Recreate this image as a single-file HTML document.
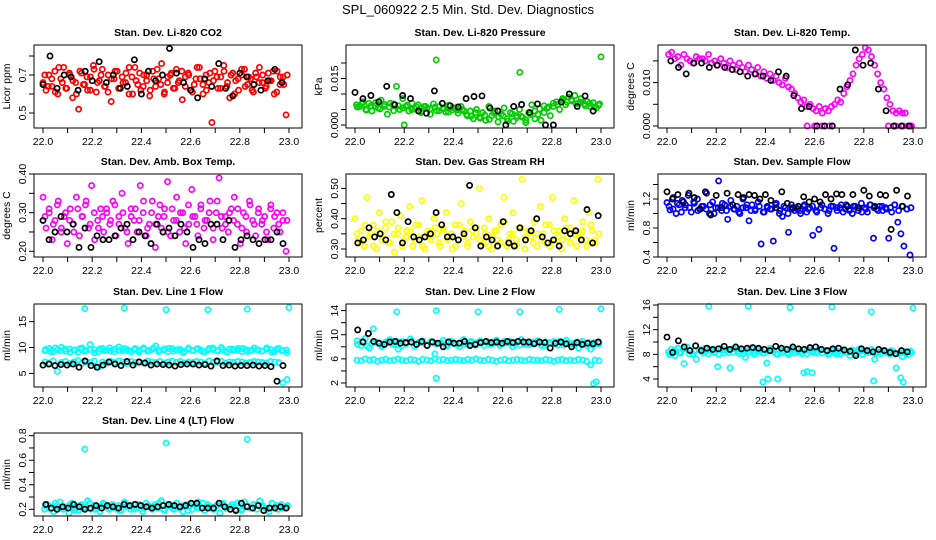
<!DOCTYPE html>
<html><head><meta charset="utf-8"><style>
body{margin:0;background:#fff}
svg{display:block;font-family:"Liberation Sans",sans-serif}
</style></head><body>
<svg id="c" width="936" height="540" viewBox="0 0 936 540">
<text x="468" y="14" text-anchor="middle" font-size="13">SPL_060922  2.5 Min. Std. Dev. Diagnostics</text>
</svg>
<script>
const xTickVals=[22.0,22.1,22.2,22.3,22.4,22.5,22.6,22.7,22.8,22.9,23.0];
const xTickLabels=["22.0","22.2","22.4","22.6","22.8","23.0"];
const titles=["Stan. Dev. Li-820 CO2","Stan. Dev. Li-820 Pressure","Stan. Dev. Li-820 Temp.","Stan. Dev. Amb. Box Temp.","Stan. Dev. Gas Stream RH","Stan. Dev. Sample Flow","Stan. Dev. Line 1 Flow","Stan. Dev. Line 2 Flow","Stan. Dev. Line 3 Flow","Stan. Dev. Line 4 (LT) Flow"];
const yLabels=["Licor ppm","kPa","degrees C","degrees C","percent","ml/min","ml/min","ml/min","ml/min","ml/min"];
const yTicks=[[.5,.6,.7,.8],[0,.005,.01,.015,.02],[0,.005,.01,.015],[.2,.25,.3,.35,.4],[.3,.35,.4,.45,.5],[.4,.6,.8,1.0,1.2,1.4],[5,10,15],[2,4,6,8,10,12,14],[4,6,8,10,12,14,16],[.2,.3,.4,.5,.6,.7,.8]];
const yTickLabels=[["0.5","0.7"],["0.000","0.015"],["0.000","0.010"],["0.20","0.30","0.40"],["0.30","0.40","0.50"],["0.4","0.8","1.2"],["5","10","15"],["2","6","10","14"],["4","8","12","16"],["0.2","0.4","0.6","0.8"]];
const yLabelVals=[[.5,.7],[0,.015],[0,.01],[.2,.3,.4],[.3,.4,.5],[.4,.8,1.2],[5,10,15],[2,6,10,14],[4,8,12,16],[.2,.4,.6,.8]];
// y calibration: [value0, relPx0, value1, relPx1]
const yCal=[[.5,68,.7,30],[0,80,.015,33.5],[0,81,.01,37.6],[.2,77.3,.4,0],[.3,75,.5,14.4],[.4,83,1.2,25],[5,69.4,15,17.6],[2,79,14,6.6],[4,75,16,1],[.2,76.3,.8,2.7]];

const co2Red=[.66,.62,.70,.64,.72,.60,.68,.74,.63,.70,.58,.66,.52,.71,.65,.62,.69,.75,.61,.67,.73,.64,.70,.56,.68,.72,.63,.66,.71,.60,.69,.74,.65,.62,.70,.67,.59,.72,.64,.68,.76,.61,.66,.70,.63,.73,.67,.57,.69,.71,.62,.65,.74,.68,.60,.70,.66,.45,.72,.63,.69,.75,.64,.58,.71,.67,.62,.70,.73,.65,.68,.61,.69,.74,.66,.63,.71,.67,.60,.72,.65,.69,.49];
const co2Red2=[.70,.64,.68,.61,.74,.66,.63,.71,.67,.60,.72,.65,.69,.62,.73,.66,.70,.64,.61,.68,.72,.63,.69,.66,.74,.60,.67,.71,.64,.70,.62,.68,.73,.65,.60,.69,.71,.63,.66,.72,.64,.70,.61,.68,.74,.65,.62,.71,.67,.69,.63,.72,.66,.70,.60,.68,.73,.64,.69,.62,.71,.66,.70,.64,.67,.72,.61,.69,.65,.70];
const co2Black=[.65,.80,.63,.70,.69,.62,.72,.67,.77,.66,.70,.63,.64,.78,.60,.72,.67,.70,.84,.71,.66,.62,.58,.68,.64,.76,.63,.59,.71,.69,.65,.62,.67,.73,.66];
const presGreen=[.0065,.006,.0075,.005,.007,.0045,.0062,.0055,.008,.006,.0035,.007,.0068,.0125,.005,.0085,.006,.0045,.007,.0052,.0065,.004,.006,.0055,.0035,.0068,.0046,.006,.0052,.0042,.0064,.0048,.0055,.0038,.006,.0045,.003,.0045,.002,.005,.0025,.004,.0015,.006,.003,.0045,.001,.0035,.0055,.002,.004,.0012,.003,.005,.0025,.0008,.004,.0065,.002,.0035,.0015,.004,.0055,.003,.006,.0075,.005,.0085,.0065,.009,.0078,.0095,.007,.0085,.0068,.0076,.006,.0072,.0055,.0068];
const presGreen2=[.0058,.0068,.0048,.0062,.0072,.0052,.0066,.0058,.0046,.0062,.0055,.0064,.005,.0058,.0044,.006,.0052,.0057,.0046,.0054,.0042,.0056,.0048,.005,.0034,.0028,.004,.0022,.0032,.0018,.0038,.0026,.003,.0012,.0036,.0024,.0028,.0016,.0034,.0045,.0052,.0062,.0058,.007,.0066,.008,.0074,.0082,.0068,.0074,.0062,.007,.0058,.0064];
const presGreenOutX=[22.33,22.67,23.0,22.2];
const presGreenOutY=[.021,.017,.022,0];
const presBlack=[.0105,.0085,.0095,.0075,.0125,.0065,.0095,.0085,.0045,.0038,.011,.007,.0062,.0058,.0085,.0092,.0094,.0055,.0045,0,.006,.0066,.004,.0068,0,0,.0074,.01,.006,.0094,.0045];
const tempMag=[.0165,.017,.0155,.016,.014,.0165,.0155,.015,.0145,.016,.0155,.0155,.015,.0165,.0145,.015,.014,.0155,.0145,.0135,.015,.014,.013,.0145,.0135,.0125,.014,.013,.012,.0135,.0115,.0125,.011,.012,.0105,.0115,.01,.0095,.011,.009,.0085,.0075,.0065,.0055,.006,.0045,.005,.004,.0035,.0045,.003,.004,.0035,.0045,.005,.006,.0055,.0075,.009,.0105,.012,.014,.0155,.0165,.018,.0175,.016,.014,.012,.01,.0085,.0065,.005,.0035,.003,.0035,.003,.003,0,0];
const tempMagOutX=[22.57,22.6,22.63,22.66,22.9,22.93,22.96,22.99];
const tempMagOutY=[0,0,0,0,0,0,0,0];
const tempBlack=[.015,.0135,.012,.0145,.0145,.0135,.014,.0135,.013,.0125,.0115,.012,.0115,.0105,.0125,.0115,.007,.004,.0045,0,0,0,.0085,.0095,.0175,.014,.0145,.0085,.0035,0,0,0];
const ambMag=[.34,.26,.30,.23,.28,.33,.25,.29,.22,.31,.27,.34,.24,.29,.32,.26,.37,.23,.28,.31,.25,.30,.27,.33,.24,.29,.35,.26,.22,.31,.28,.25,.37,.30,.24,.27,.33,.21,.29,.26,.31,.38,.24,.28,.34,.25,.30,.22,.27,.36,.29,.24,.32,.26,.28,.33,.23,.30,.39,.26,.29,.25,.31,.34,.27,.22,.30,.25,.33,.28,.24,.31,.27,.29,.23,.32,.26,.30,.25,.28,.20];
const ambMag2=[.29,.31,.27,.32,.26,.30,.28,.25,.31,.29,.33,.27,.30,.26,.29,.31,.28,.32,.27,.30,.25,.29,.31,.28,.33,.26,.30,.27,.32,.29,.25,.31,.28,.30,.26,.32,.29,.27,.31,.28,.30,.26,.33,.29,.27,.30,.28,.31,.26,.29,.32,.27,.30,.28,.25,.31,.29,.27,.30,.28];
const ambBlack=[.28,.23,.25,.29,.25,.27,.21,.26,.21,.24,.23,.23,.24,.26,.27,.23,.25,.24,.22,.27,.25,.26,.24,.27,.25,.21,.23,.22,.27,.27,.23,.28,.21,.23,.24,.23,.22,.23,.23,.25,.22];
const rhYel=[.40,.33,.36,.31,.47,.35,.38,.30,.42,.34,.37,.32,.39,.29,.35,.41,.33,.36,.44,.31,.38,.34,.46,.30,.36,.33,.40,.35,.31,.37,.42,.34,.30,.38,.33,.45,.36,.31,.39,.34,.37,.50,.32,.35,.40,.30,.36,.33,.38,.47,.31,.35,.42,.33,.37,.53,.30,.36,.34,.39,.31,.44,.35,.32,.38,.47,.33,.36,.30,.40,.34,.37,.46,.31,.35,.39,.33,.42,.36,.32,.53];
const rhYel2=[.35,.32,.38,.34,.31,.36,.33,.39,.32,.35,.37,.31,.34,.36,.33,.38,.31,.35,.34,.37,.32,.36,.33,.35,.31,.38,.34,.32,.36,.35,.33,.37,.31,.34,.36,.32,.39,.33,.35,.31,.37,.34,.36,.32,.35,.33,.38,.31,.36,.34,.33,.37,.32,.35,.34,.36,.31,.38,.33,.35];
const rhBlack=[.32,.33,.37,.34,.35,.33,.48,.42,.32,.39,.34,.33,.34,.35,.42,.38,.34,.34,.33,.35,.51,.37,.31,.34,.33,.31,.39,.32,.31,.37,.33,.36,.40,.34,.32,.33,.31,.36,.35,.36,.33,.43,.32,.41];
const flowBlue=[1.15,1.05,1.22,1.0,1.12,1.18,1.08,1.25,1.02,1.14,1.2,1.06,1.1,1.28,1.0,1.16,1.08,1.45,1.04,1.12,0.92,1.18,1.06,1.1,1.0,1.2,1.08,0.9,1.12,1.04,1.16,0.58,1.02,1.1,1.06,0.62,1.14,1.0,0.96,1.08,0.74,1.12,1.04,1.06,1.0,1.1,1.02,1.08,0.7,1.04,0.78,1.12,1.06,1.0,1.1,0.52,1.04,1.08,1.02,1.12,1.06,1.0,1.1,1.04,1.14,1.08,1.02,1.12,0.66,1.06,1.1,1.04,1.08,0.66,1.02,1.12,0.88,0.72,0.55,1.06,0.42];
const flowBlue2=[1.1,1.06,1.14,1.02,1.12,1.08,1.16,1.04,1.1,1.06,1.12,1.0,1.08,1.14,1.04,1.1,1.06,1.02,1.08,1.12,1.04,1.06,1.1,1.02,1.08,1.06,1.12,1.04,1.1,1.0,1.06,1.08,1.04,1.12,1.06,1.1,1.02,1.08,1.06,1.04,1.1,1.08,1.12,1.06,1.04,1.1,1.08,1.02,1.06,1.12,1.08,1.04,1.1,1.06,1.08,1.12,1.04,1.1,1.06,1.08];
const flowBlack=[1.3,1.2,1.26,1.16,1.28,1.22,1.06,1.3,0.98,1.25,1.08,1.28,1.12,1.26,1.22,1.26,1.25,1.2,1.26,1.18,1.08,1.3,1.14,1.08,1.1,1.23,1.16,1.2,1.16,1.26,1.2,1.27,1.26,1.1,1.26,1.08,1.32,1.24,1.1,1.26,1.25,0.78,1.32,1.1,1.24];
const l1Top=[9.4,9.8,9.2,9.6,10.0,9.3,9.7,9.5,9.1,9.9,9.4,10.6,9.6,9.2,9.8,9.5,9.3,9.7,10.1,9.4,9.6,9.2,9.8,9.5,9.9,9.3,9.6,10.3,9.4,9.7,9.2,9.8,9.5,9.6,9.3,9.9,9.4,9.7,9.5,9.2,9.8,9.6,9.4,10.0,9.3,9.7,9.5,9.8,9.2,9.6,9.4,9.9,9.5,9.3,9.7,9.6,9.2,9.8,9.4,9.0];
const l1Top2=[9.6,9.2,9.9,9.4,9.7,9.1,9.5,9.8,9.3,9.6,9.0,9.7,9.4,9.9,9.2,9.5,9.8,9.3,9.6,9.1,9.7,9.4,9.9,9.2,9.5,9.8,9.3,9.6,9.0,9.7,9.4,9.8,9.2,9.5,9.9,9.3,9.6,9.1,9.7,9.4,9.8,9.2,9.5,9.6,9.3,9.9,9.1,9.7,9.4,9.5];
const l1Low=[7.2,7.0,7.4,5.4,7.1,7.3,6.9,7.2,7.5,7.0,7.3,7.1,7.4,6.2,7.2,7.0,7.3,7.1,7.4,7.2,6.9,7.3,7.1,7.2,7.0,7.4,7.2,7.1,7.3,7.0,7.2,7.4,7.1,7.3,7.0,7.2,7.1,7.3,7.2,7.0,7.4,7.1,7.2,7.3,7.0,7.2,7.1,7.3,7.2,7.0,7.1,7.3,7.2,7.1,7.0,7.3,7.2,7.1,3.2,3.8];
const l1Out=[17.5,17.6,17.3,17.3,17.4,17.7];
const l1OutX=[22.17,22.33,22.5,22.67,22.83,23.0];
const l1Black=[6.6,6.8,6.5,6.7,6.6,6.8,6.2,7.4,6.5,6.2,6.6,7.2,6.8,6.5,7.3,6.6,7.2,7.0,6.6,6.8,6.7,6.6,6.4,6.7,6.8,6.8,6.6,6.7,6.4,7.4,6.5,6.6,6.4,6.5,6.5,6.6,6.4,6.5,6.3,3.5,6.5];
const l2Top=[9.0,8.2,9.4,7.8,11.0,8.6,8.0,8.8,9.2,8.4,7.6,8.9,8.5,9.3,8.1,8.7,9.0,8.3,8.8,6.8,8.6,9.1,8.2,8.9,8.5,8.0,9.2,8.4,8.8,8.6,9.0,8.2,8.7,8.5,9.1,8.3,8.9,8.6,8.0,8.8,9.2,8.4,8.7,8.5,9.0,8.2,8.8,8.6,8.9,8.3,8.7,9.1,8.4,8.6,7.8,8.9,8.2,7.6,8.7,8.5];
const l2Top2=[8.4,8.9,8.1,8.6,8.8,8.3,8.7,8.5,8.9,8.2,8.6,8.8,8.4,8.7,8.3,8.9,8.5,8.6,8.2,8.8,8.4,8.7,8.5,8.9,8.3,8.6,8.8,8.4,8.7,8.2,8.6,8.9,8.5,8.3,8.7,8.4,8.8,8.6,8.2,8.7,8.5,8.9,8.3,8.6,8.4,8.8,8.5,8.7,8.2,8.6];
const l2Low=[5.8,5.7,6.0,5.8,5.9,5.6,5.8,5.9,5.7,5.8,6.0,5.8,5.7,5.9,5.8,5.6,5.9,5.8,5.7,6.0,5.8,5.9,5.7,5.8,5.9,5.8,5.7,5.9,5.8,6.0,5.8,5.7,5.9,5.8,5.6,5.8,5.9,5.7,5.8,5.9,5.8,5.7,5.9,5.8,5.8,5.7,5.9,5.8,5.6,5.8,5.9,5.7,5.8,5.7,5.9,5.8,5.6,5.0,5.8,5.7];
const l2Out=[13.8,14.0,2.8,13.8,13.8,14.2,1.9,2.2,14.3];
const l2OutX=[22.17,22.33,22.33,22.5,22.67,22.83,22.97,22.98,23.0];
const l2Black=[10.8,8.8,10.2,8.9,8.6,8.4,8.8,8.9,8.6,8.7,8.8,8.4,8.9,8.2,8.8,8.6,8.0,8.8,8.6,8.6,8.9,8.2,8.4,8.7,8.9,8.7,8.8,8.6,8.9,8.7,8.9,8.8,8.8,8.5,8.8,8.7,7.8,8.6,8.8,8.5,8.0,8.7,8.4,8.6,8.5,8.8];
const l3Cyan=[8.4,8.8,7.8,9.0,8.2,6.5,9.2,8.6,8.0,7.2,8.8,8.4,9.0,8.1,8.6,8.3,6.0,8.9,8.2,8.7,5.8,8.4,9.0,8.1,8.6,7.5,8.3,8.8,8.0,8.5,8.7,8.2,6.6,9.0,8.4,8.1,8.7,8.3,8.9,8.0,8.6,8.2,8.8,8.4,5.0,8.1,8.7,8.3,8.5,8.9,8.2,8.6,8.0,8.8,8.3,8.5,8.1,8.7,8.4,7.8,8.6,8.2,8.9,8.0,8.5,8.3,8.7,7.2,8.4,8.1,8.6,8.3,8.0,8.5,5.8,8.2,7.6,8.4,8.0,8.3];
const l3Cyan2=[8.0,8.6,8.3,8.9,8.1,8.5,8.8,8.2,8.6,8.4,8.0,8.7,8.3,8.9,8.5,8.1,8.6,8.4,8.8,8.2,8.5,8.7,8.0,8.6,8.3,8.9,8.4,8.1,8.7,8.5,8.2,8.8,8.4,8.6,8.0,8.5,8.3,8.7,8.1,8.6,8.4,8.8,8.2,8.5,8.3,8.6,8.0,8.4,8.2,8.5];
const l3Out=[15.8,15.8,3.5,4.0,4.0,5.2,5.0,15.6,15.7,14.9,3.7,4.2,3.5,15.5];
const l3OutX=[22.17,22.33,22.39,22.41,22.45,22.57,22.59,22.5,22.67,22.83,22.84,22.95,22.96,23.0];
const l3Black=[10.8,8.3,10.2,9.2,8.6,9.4,8.6,9.0,8.8,8.9,9.3,8.8,9.2,8.9,9.0,9.1,9.0,8.8,8.6,9.3,9.0,8.8,9.2,8.9,8.8,9.1,9.2,8.8,8.6,8.9,9.0,8.7,8.5,7.8,8.9,8.6,8.4,8.8,8.6,8.3,8.1,8.6,8.4];
const l4Cyan=[.20,.24,.21,.18,.23,.26,.20,.22,.17,.25,.21,.19,.24,.22,.27,.20,.23,.21,.18,.25,.22,.20,.24,.21,.23,.19,.26,.22,.20,.24,.21,.23,.18,.25,.22,.20,.24,.21,.27,.19,.23,.22,.20,.25,.21,.18,.24,.22,.20,.23,.26,.21,.19,.24,.22,.20,.23,.17,.25,.21,.22,.24,.20,.23,.19,.26,.22,.21,.24,.20,.27,.23,.21,.18,.25,.22,.20,.24,.21,.23];
const l4Cyan2=[.23,.20,.25,.21,.22,.24,.19,.23,.21,.25,.20,.22,.24,.21,.23,.19,.25,.22,.20,.24,.21,.23,.22,.25,.20,.24,.21,.22,.23,.19,.24,.21,.25,.22,.20,.23,.24,.21,.22,.25,.20,.23,.21,.24,.22,.20,.25,.23,.21,.22];
const l4Out=[.69,.74,.77];
const l4OutX=[22.17,22.5,22.83];
const l4Black=[.24,.21,.20,.22,.21,.24,.22,.20,.21,.23,.21,.23,.22,.21,.24,.23,.24,.23,.22,.21,.22,.23,.24,.23,.22,.23,.25,.25,.21,.21,.21,.25,.22,.20,.19,.25,.22,.21,.23,.19,.21,.21,.22,.21];

const colLeft=[34,346,658], rowTop=[45,174,304,433], boxW=268, boxH=83;
const NS="http://www.w3.org/2000/svg";
const svg=document.getElementById('c');
function mk(tag,attrs,parent){const e=document.createElementNS(NS,tag);for(const k in attrs)e.setAttribute(k,attrs[k]);(parent||svg).appendChild(e);return e;}
const RED="#ff0000",GRN="#00cc00",MAG="#ff00ff",YEL="#ffff00",BLU="#0000ff",CYN="#00ffff",BLK="#000000";
const panelSeries=[
 [[co2Red,null,RED],[co2Red2,null,RED],[co2Black,null,BLK]],
 [[presGreen,null,GRN],[presGreen2,null,GRN],[presGreenOutY,presGreenOutX,GRN],[presBlack,null,BLK]],
 [[tempMag,null,MAG],[tempMagOutY,tempMagOutX,MAG],[tempBlack,null,BLK]],
 [[ambMag,null,MAG],[ambMag2,null,MAG],[ambBlack,null,BLK]],
 [[rhYel,null,YEL],[rhYel2,null,YEL],[rhBlack,null,BLK]],
 [[flowBlue,null,BLU],[flowBlue2,null,BLU],[flowBlack,null,BLK]],
 [[l1Top,null,CYN],[l1Top2,null,CYN],[l1Low,null,CYN],[l1Out,l1OutX,CYN],[l1Black,null,BLK]],
 [[l2Top,null,CYN],[l2Top2,null,CYN],[l2Low,null,CYN],[l2Out,l2OutX,CYN],[l2Black,null,BLK]],
 [[l3Cyan,null,CYN],[l3Cyan2,null,CYN],[l3Out,l3OutX,CYN],[l3Black,null,BLK]],
 [[l4Cyan,null,CYN],[l4Cyan2,null,CYN],[l4Out,l4OutX,CYN],[l4Black,null,BLK]]
];
for(let p=0;p<10;p++){
 const L=colLeft[p%3], T=rowTop[Math.floor(p/3)];
 const g=mk('g',{});
 
 
 const xs=v=>L+9+(v-22)*246;
 const c=yCal[p];
 const ys=v=>T+c[1]+(v-c[0])*(c[3]-c[1])/(c[2]-c[0]);
 const t=mk('text',{x:L+boxW/2,y:T-9,'text-anchor':'middle','font-size':10.5,'font-weight':'bold'},g);
 t.textContent=titles[p];
 
 
 const pts=mk('g',{fill:'none','stroke-width':1.7},g);
 
 
 for(const s of panelSeries[p]){
  const vals=s[0], xv=s[1], n=vals.length;
  for(let i=0;i<n;i++){
   const xval = xv ? xv[i] : 22 + (i+(s[0].length%2?0:0.5))/(n);
   const cy=Math.max(T+2,Math.min(T+boxH-2,ys(vals[i])));
   const ci=mk('circle',{cx:xs(Math.min(23,xval)).toFixed(1),cy:cy.toFixed(1),r:2.6,stroke:s[2]},pts);
   
   
  }
 }
 const box=mk('rect',{x:L,y:T,width:boxW,height:boxH,fill:'none',stroke:'#000','stroke-width':1},g);
 
 
 const xa=mk('g',{},g);
 
 
 for(const v of xTickVals){const x=xs(v);mk('line',{x1:x,x2:x,y1:T+boxH,y2:T+boxH+5,stroke:'#000'},xa);}
 mk('line',{x1:xs(22),x2:xs(23),y1:T+boxH,y2:T+boxH,stroke:'#000'},xa);
 xTickLabels.forEach((lb,i)=>{const tx=mk('text',{x:xs(22+i*0.2),y:T+boxH+17,'text-anchor':'middle','font-size':10.5},xa);tx.textContent=lb;});
 const ya=mk('g',{},g);
 
 
 for(const v of yTicks[p]){const y=ys(v);mk('line',{x1:L,x2:L-5,y1:y,y2:y,stroke:'#000'},ya);}
 yLabelVals[p].forEach((v,i)=>{const y=ys(v);const tx=mk('text',{x:L-8,y:y,'text-anchor':'middle','font-size':10.5,transform:`rotate(-90 ${L-8} ${y})`},ya);tx.textContent=yTickLabels[p][i];});
 const yl=mk('text',{x:L-24,y:T+boxH/2,'text-anchor':'middle','font-size':10.5,transform:`rotate(-90 ${L-24} ${T+boxH/2})`},g);
 yl.textContent=yLabels[p];
 
 
}
</script>
</body></html>
